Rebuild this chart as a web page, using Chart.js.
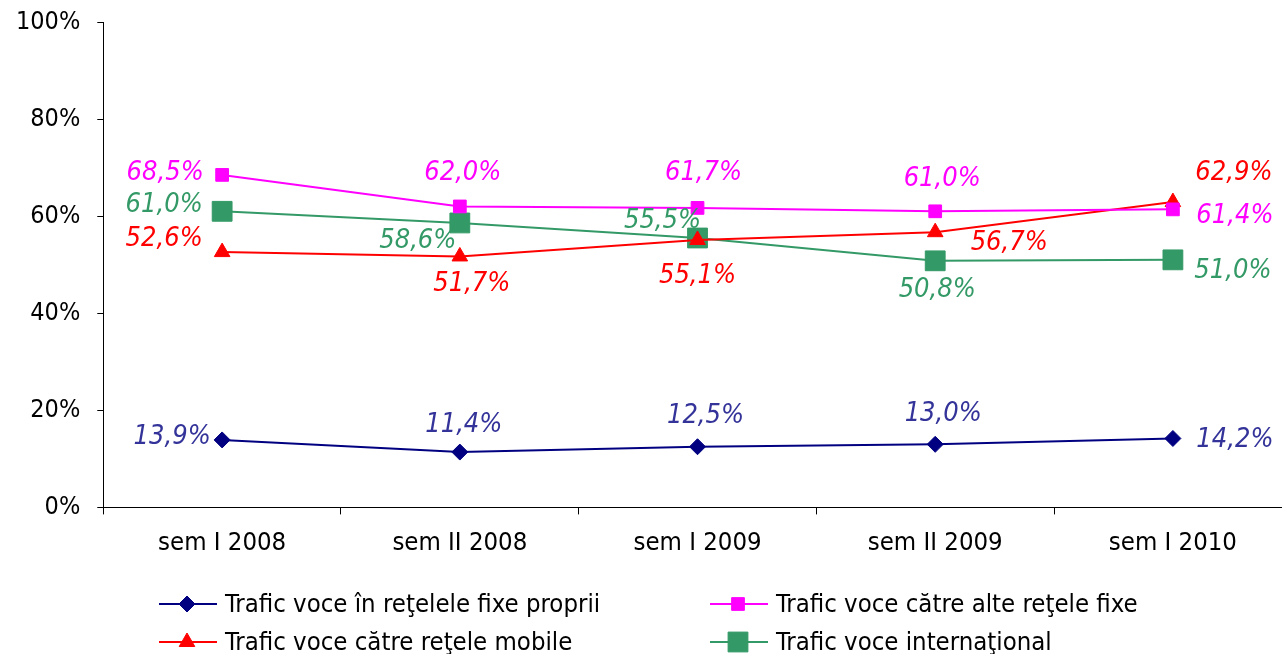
<!DOCTYPE html>
<html>
<head>
<meta charset="utf-8">
<script src="https://cdn.jsdelivr.net/npm/chart.js@4"></script>
<style>
  html, body { margin: 0; padding: 0; background: #fff; }
  #wrap { width: 1282px; height: 654px; position: relative; }
</style>
</head>
<body>
<div id="wrap"><canvas id="trafficChart"></canvas></div>
<script>
// ---- data ----
const categories = ['sem I 2008', 'sem II 2008', 'sem I 2009', 'sem II 2009', 'sem I 2010'];
const seriesNames = [
  'Trafic voce în reţelele fixe proprii',
  'Trafic voce către alte reţele fixe',
  'Trafic voce către reţele mobile',
  'Trafic voce internaţional'
];
const fixeProprii = [13.9, 11.4, 12.5, 13.0, 14.2];
const alteFixe = [68.5, 62.0, 61.7, 61.0, 61.4];
const reteleMobile = [52.6, 51.7, 55.1, 56.7, 62.9];
const international = [61.0, 58.6, 55.5, 50.8, 51.0];
const yTicks = [0, 20, 40, 60, 80, 100];

// ---- styling ----
const lineColors = ['#000080', '#FF00FF', '#FF0000', '#339966'];
const labelColors = ['#333399', '#FF00FF', '#FF0000', '#339966'];
const pointStyles = ['rectRot', 'rect', 'triangle', 'rect'];
const pointRadii = [8, 9, 9, 14];
// label offsets (text centre relative to the point), per series / point
const labelOffsets = [
  [[-50, -3], [4, -27], [8, -31], [8, -30], [62, 2]],
  [[-57, -2], [3, -33], [6, -35], [7, -32], [62, 7]],
  [[-58, -13], [12, 28], [0, 36], [74, 11], [61, -29]],
  [[-58, -6], [-42, 18], [-35, -17], [2, 29], [60, 11]]
];

const FONT = '"DejaVu Sans Condensed", "DejaVu Sans", Verdana, sans-serif';
const fmt = v => v.toFixed(1).replace('.', ',') + '%';

const dataLabels = {
  id: 'dataLabels',
  afterDatasetsDraw(chart) {
    const ctx = chart.ctx;
    ctx.save();
    ctx.font = 'italic 27px ' + FONT;
    ctx.textAlign = 'center';
    ctx.textBaseline = 'middle';
    chart.data.datasets.forEach((ds, i) => {
      const meta = chart.getDatasetMeta(i);
      ctx.fillStyle = labelColors[i];
      meta.data.forEach((pt, j) => {
        const off = labelOffsets[i][j];
        ctx.fillText(fmt(ds.data[j].y), pt.x + off[0], pt.y + off[1]);
      });
    });
    ctx.restore();
  }
};

// two-column legend under the axis
const gridLegend = {
  id: 'gridLegend',
  afterDraw(chart) {
    const ctx = chart.ctx;
    const cols = [159, 710];
    const rows = [604, 642];
    ctx.save();
    ctx.font = '25.5px ' + FONT;
    ctx.textBaseline = 'middle';
    ctx.textAlign = 'left';
    chart.data.datasets.forEach((ds, i) => {
      const x = cols[i % 2];
      const y = rows[Math.floor(i / 2)];
      ctx.strokeStyle = lineColors[i];
      ctx.lineWidth = 2;
      ctx.beginPath();
      ctx.moveTo(x, y);
      ctx.lineTo(x + 58, y);
      ctx.stroke();
      ctx.fillStyle = lineColors[i];
      ctx.strokeStyle = lineColors[i];
      ctx.lineWidth = 1;
      Chart.helpers.drawPoint(ctx, {
        pointStyle: pointStyles[i], radius: pointRadii[i], rotation: 0, borderWidth: 1
      }, x + 28, y);
      ctx.fillStyle = '#000';
      ctx.fillText(ds.label, x + 66, y + 1);
    });
    ctx.restore();
  }
};

const allSeries = [fixeProprii, alteFixe, reteleMobile, international];
const datasets = allSeries.map((vals, i) => ({
  label: seriesNames[i],
  data: vals.map((v, j) => ({ x: j, y: v })),
  borderColor: lineColors[i],
  backgroundColor: lineColors[i],
  borderWidth: 2,
  pointStyle: pointStyles[i],
  pointRadius: pointRadii[i],
  pointBorderWidth: 1,
  tension: 0
}));

const plotLeft = 103;
const bandWidth = 237.75;
const xMax = (1282 - plotLeft) / bandWidth - 0.5;

// drop the label overhang padding so the plot box matches the original
const noOverhang = scale => {
  scale.paddingTop = 0;
  scale.paddingBottom = 0;
  scale.paddingLeft = 0;
  scale.paddingRight = 0;
};

new Chart(document.getElementById('trafficChart'), {
  type: 'line',
  data: { datasets: datasets },
  options: {
    responsive: true,
    maintainAspectRatio: false,
    animation: false,
    layout: { autoPadding: false, padding: { left: -1, top: 22, right: 0, bottom: 81 } },
    plugins: { legend: { display: false }, tooltip: { enabled: false } },
    scales: {
      x: {
        type: 'linear',
        min: -0.5,
        max: xMax,
        afterBuildTicks: scale => { scale.ticks = categories.map((c, i) => ({ value: i })); },
        afterFit: noOverhang,
        ticks: {
          callback: v => categories[v],
          color: '#000',
          font: { family: FONT, size: 25.5 },
          padding: 14,
          maxRotation: 0,
          autoSkip: false
        },
        grid: { drawOnChartArea: false, offset: true, tickLength: 7, color: '#000' },
        border: { color: '#000', width: 1 }
      },
      y: {
        min: 0,
        max: 100,
        afterBuildTicks: scale => { scale.ticks = yTicks.map(v => ({ value: v })); },
        afterFit: noOverhang,
        ticks: {
          callback: v => v + '%',
          color: '#000',
          font: { family: FONT, size: 25 },
          padding: 17
        },
        grid: { drawOnChartArea: false, tickLength: 6, color: '#000' },
        border: { color: '#000', width: 1 }
      }
    }
  },
  plugins: [dataLabels, gridLegend]
});
</script>
</body>
</html>
